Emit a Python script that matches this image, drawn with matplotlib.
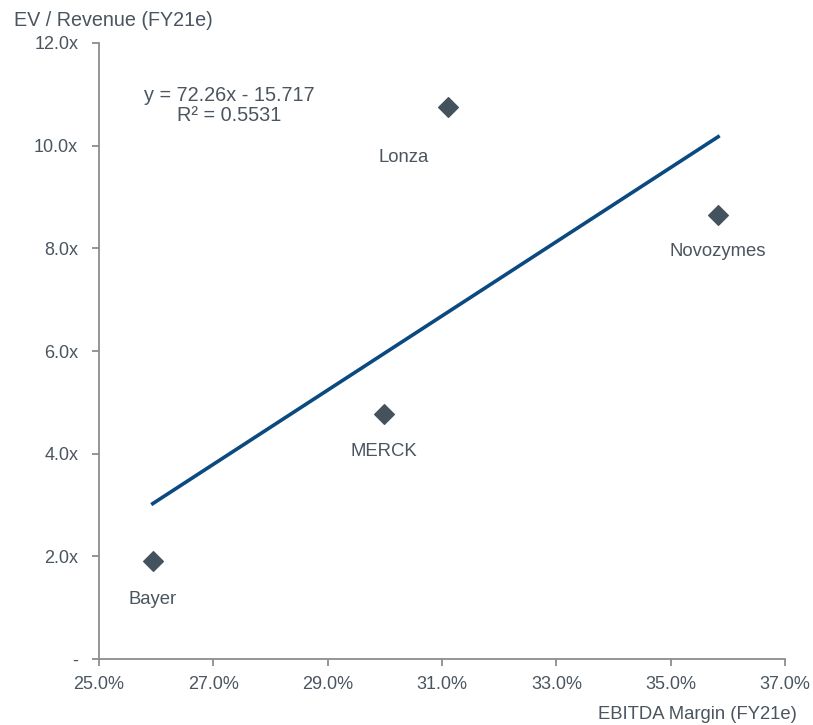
import numpy as np
import matplotlib.pyplot as plt
from matplotlib.ticker import FuncFormatter

plt.rcParams['font.family'] = ['Liberation Sans', 'DejaVu Sans']

companies = ['Bayer', 'MERCK', 'Lonza', 'Novozymes']
ebitda_margin = [0.2594, 0.2999, 0.3110, 0.3583]
ev_revenue = [1.91, 4.77, 10.75, 8.65]
label_offsets = [(0, -28), (0, -27), (-32, -36), (0, -26)]

slope = 72.26
intercept = -15.717
r_squared = 0.5531

text_col = '#4a5560'
axis_col = '#8c8c8c'

fig = plt.figure(figsize=(8.13, 7.25), dpi=100)
ax = fig.add_axes([0.1218, 0.091, 0.8438, 0.8497])

# trend line over the data range
xs = np.array([min(ebitda_margin), max(ebitda_margin)])
ax.plot(xs, slope * xs + intercept, color='#0b4a80', lw=2.6, zorder=2)

ax.scatter(ebitda_margin, ev_revenue, marker='D', s=100, color='#44525e', zorder=3)

for name, x, y, off in zip(companies, ebitda_margin, ev_revenue, label_offsets):
    ax.annotate(name, (x, y), xytext=off, textcoords='offset points',
                ha='center', va='center', fontsize=13.3, color=text_col)

ax.text(0.1895, 0.899, 'y = {:.2f}x - {:.3f}\nR² = {:.4f}'.format(slope, -intercept, r_squared),
        transform=ax.transAxes, ha='center', va='center', fontsize=14.3,
        color=text_col, linespacing=1.08)

ax.set_xlim(0.25, 0.37)
ax.set_ylim(0, 12)
ax.set_xticks(np.arange(0.25, 0.3701, 0.02))
ax.set_yticks(np.arange(0, 12.01, 2))
ax.xaxis.set_major_formatter(FuncFormatter(lambda v, p: '{:.1f}%'.format(v * 100)))
ax.yaxis.set_major_formatter(FuncFormatter(lambda v, p: '-' if abs(v) < 1e-9 else '{:.1f}x'.format(v)))

for s in ['top', 'right']:
    ax.spines[s].set_visible(False)
for s in ['left', 'bottom']:
    ax.spines[s].set_color(axis_col)
    ax.spines[s].set_linewidth(1.3)
ax.tick_params(colors=axis_col, length=5, width=1.3, labelcolor=text_col, labelsize=13)
ax.tick_params(axis='x', pad=7)
ax.tick_params(axis='y', pad=10)

fig.text(0.017, 0.972, 'EV / Revenue (FY21e)', ha='left', va='center', fontsize=14.2, color=text_col)
fig.text(0.980, 0.015, 'EBITDA Margin (FY21e)', ha='right', va='center', fontsize=13.3, color=text_col)

fig.savefig('out.png', dpi=100)
